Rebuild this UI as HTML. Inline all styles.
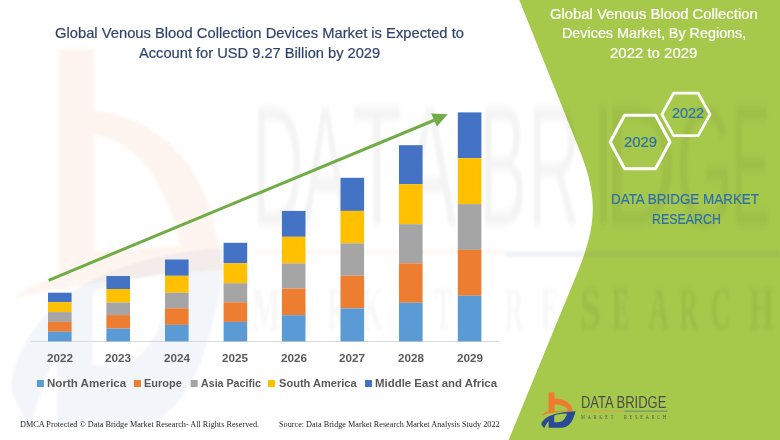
<!DOCTYPE html>
<html><head><meta charset="utf-8"><style>
html,body{margin:0;padding:0;}
body{width:780px;height:440px;position:relative;overflow:hidden;background:#fff;}
.t{position:absolute;white-space:nowrap;transform-origin:0 0;}
svg{position:absolute;left:0;top:0;}
</style></head><body>
<svg width="780" height="440" viewBox="0 0 780 440">
<defs><filter id="blur" x="-10%" y="-10%" width="120%" height="120%"><feGaussianBlur stdDeviation="1.2"/></filter><filter id="blur1" x="-10%" y="-10%" width="120%" height="120%"><feGaussianBlur stdDeviation="1.3"/></filter><clipPath id="cg"><path d="M519.3,0 L579.5,150 C597.9,196 596.9,224 578.5,270 L508.6,440 L780,440 L780,0 Z"/></clipPath><clipPath id="cw"><path d="M0,0 L519.3,0 L579.5,150 C597.9,196 596.9,224 578.5,270 L508.6,440 L0,440 Z"/></clipPath></defs>
<path d="M519.3,0 L579.5,150 C597.9,196 596.9,224 578.5,270 L508.6,440 L780,440 L780,0 Z" fill="#A6C84B"/>
<g filter="url(#blur)"><path d="M58.5,48.5 L94.5,48.5 L94.5,111 C141,113 196,150 212,215 C217,238 221,255 224,270 C160,274 80,284 12,298 C30,286 48,279 58.5,275 Z M94.5,135 C136,140 168,185 180,246 L94.5,251 Z" fill="#F07A30" fill-opacity="0.075" fill-rule="evenodd"/><g transform="matrix(6.3,0,0,10.6,-3398.7,-4110.9)"><path d="M575.5,411.2 C566,411.5 553,413 546,418 C542.5,420.5 540.8,423.5 541.5,425 L544.3,428.3 C545.3,425.5 546.8,423.3 548.6,421 L548.6,427.8 L562,427.8 C569.5,427.3 573.5,420 575.5,411.2 Z M554.2,415.4 C558.3,414.3 563,413.7 567,413.6 C566,418.3 562.8,422.3 557.7,422.3 L554.2,422.3 Z" fill="#2A4A96" fill-opacity="0.05" fill-rule="evenodd"/></g></g><g transform="scale(1,2.8343)" font-family="Liberation Sans" font-size="60" fill="#000" fill-opacity="0.045" filter="url(#blur1)"><text x="252.18" y="79.38" textLength="51.21" lengthAdjust="spacingAndGlyphs">D</text><text x="302.87" y="79.38" textLength="45.27" lengthAdjust="spacingAndGlyphs">A</text><text x="352.17" y="79.38" textLength="49.69" lengthAdjust="spacingAndGlyphs">T</text><text x="402.84" y="79.38" textLength="54.32" lengthAdjust="spacingAndGlyphs">A</text><text x="479.14" y="79.38" textLength="47.62" lengthAdjust="spacingAndGlyphs">B</text><text x="528.06" y="79.38" textLength="52.30" lengthAdjust="spacingAndGlyphs">R</text><text x="593.07" y="79.38" textLength="20.85" lengthAdjust="spacingAndGlyphs">I</text><text x="603.69" y="79.38" textLength="73.16" lengthAdjust="spacingAndGlyphs">D</text><text x="676.30" y="79.38" textLength="57.19" lengthAdjust="spacingAndGlyphs">G</text><text x="731.16" y="79.38" textLength="39.38" lengthAdjust="spacingAndGlyphs">E</text></g><g clip-path="url(#cw)"><g transform="scale(1,1.5267)" font-family="Liberation Serif" font-weight="700" font-size="40" fill="#000" fill-opacity="0.03" filter="url(#blur1)"><text x="251.56" y="215.50" textLength="28.89" lengthAdjust="spacingAndGlyphs">M</text><text x="291.32" y="215.50" textLength="20.48" lengthAdjust="spacingAndGlyphs">A</text><text x="327.19" y="215.50" textLength="18.86" lengthAdjust="spacingAndGlyphs">R</text><text x="361.56" y="215.50" textLength="21.14" lengthAdjust="spacingAndGlyphs">K</text><text x="399.49" y="215.50" textLength="17.22" lengthAdjust="spacingAndGlyphs">E</text><text x="434.17" y="215.50" textLength="18.02" lengthAdjust="spacingAndGlyphs">T</text><text x="504.19" y="215.50" textLength="18.86" lengthAdjust="spacingAndGlyphs">R</text><text x="541.19" y="215.50" textLength="17.22" lengthAdjust="spacingAndGlyphs">E</text><text x="579.99" y="215.50" textLength="20.83" lengthAdjust="spacingAndGlyphs">S</text><text x="612.19" y="215.50" textLength="17.22" lengthAdjust="spacingAndGlyphs">E</text><text x="648.72" y="215.50" textLength="20.48" lengthAdjust="spacingAndGlyphs">A</text><text x="679.19" y="215.50" textLength="18.86" lengthAdjust="spacingAndGlyphs">R</text><text x="710.78" y="215.50" textLength="19.86" lengthAdjust="spacingAndGlyphs">C</text><text x="749.00" y="215.50" textLength="25.01" lengthAdjust="spacingAndGlyphs">H</text></g></g><g clip-path="url(#cg)"><g transform="scale(1,1.5267)" font-family="Liberation Serif" font-weight="700" font-size="40" fill="#000" fill-opacity="0.055" filter="url(#blur1)"><text x="251.56" y="215.50" textLength="28.89" lengthAdjust="spacingAndGlyphs">M</text><text x="291.32" y="215.50" textLength="20.48" lengthAdjust="spacingAndGlyphs">A</text><text x="327.19" y="215.50" textLength="18.86" lengthAdjust="spacingAndGlyphs">R</text><text x="361.56" y="215.50" textLength="21.14" lengthAdjust="spacingAndGlyphs">K</text><text x="399.49" y="215.50" textLength="17.22" lengthAdjust="spacingAndGlyphs">E</text><text x="434.17" y="215.50" textLength="18.02" lengthAdjust="spacingAndGlyphs">T</text><text x="504.19" y="215.50" textLength="18.86" lengthAdjust="spacingAndGlyphs">R</text><text x="541.19" y="215.50" textLength="17.22" lengthAdjust="spacingAndGlyphs">E</text><text x="579.99" y="215.50" textLength="20.83" lengthAdjust="spacingAndGlyphs">S</text><text x="612.19" y="215.50" textLength="17.22" lengthAdjust="spacingAndGlyphs">E</text><text x="648.72" y="215.50" textLength="20.48" lengthAdjust="spacingAndGlyphs">A</text><text x="679.19" y="215.50" textLength="18.86" lengthAdjust="spacingAndGlyphs">R</text><text x="710.78" y="215.50" textLength="19.86" lengthAdjust="spacingAndGlyphs">C</text><text x="749.00" y="215.50" textLength="25.01" lengthAdjust="spacingAndGlyphs">H</text></g></g><g filter="url(#blur1)"><rect x="255" y="250" width="250" height="4" fill="#F07A30" fill-opacity="0.06"/><rect x="505" y="251" width="275" height="6" fill="#2A4A96" fill-opacity="0.06"/></g>
<line x1="31" y1="341.5" x2="499" y2="341.5" stroke="#D9D9D9" stroke-width="1"/>
<rect x="48" y="292.7" width="23.6" height="9.50" fill="#4472C4"/><rect x="48" y="302.2" width="23.6" height="9.90" fill="#FFC000"/><rect x="48" y="312.1" width="23.6" height="9.80" fill="#A5A5A5"/><rect x="48" y="321.9" width="23.6" height="9.80" fill="#ED7D31"/><rect x="48" y="331.7" width="23.6" height="9.70" fill="#5B9BD5"/><rect x="106.4" y="276" width="23.6" height="13.00" fill="#4472C4"/><rect x="106.4" y="289" width="23.6" height="13.50" fill="#FFC000"/><rect x="106.4" y="302.5" width="23.6" height="12.60" fill="#A5A5A5"/><rect x="106.4" y="315.1" width="23.6" height="13.50" fill="#ED7D31"/><rect x="106.4" y="328.6" width="23.6" height="12.80" fill="#5B9BD5"/><rect x="165" y="259.5" width="23.6" height="16.30" fill="#4472C4"/><rect x="165" y="275.8" width="23.6" height="16.90" fill="#FFC000"/><rect x="165" y="292.7" width="23.6" height="15.60" fill="#A5A5A5"/><rect x="165" y="308.3" width="23.6" height="16.60" fill="#ED7D31"/><rect x="165" y="324.9" width="23.6" height="16.50" fill="#5B9BD5"/><rect x="223.6" y="242.8" width="23.6" height="20.50" fill="#4472C4"/><rect x="223.6" y="263.3" width="23.6" height="19.90" fill="#FFC000"/><rect x="223.6" y="283.2" width="23.6" height="19.10" fill="#A5A5A5"/><rect x="223.6" y="302.3" width="23.6" height="19.60" fill="#ED7D31"/><rect x="223.6" y="321.9" width="23.6" height="19.50" fill="#5B9BD5"/><rect x="281.9" y="210.9" width="23.6" height="25.90" fill="#4472C4"/><rect x="281.9" y="236.8" width="23.6" height="26.60" fill="#FFC000"/><rect x="281.9" y="263.4" width="23.6" height="25.20" fill="#A5A5A5"/><rect x="281.9" y="288.6" width="23.6" height="26.60" fill="#ED7D31"/><rect x="281.9" y="315.2" width="23.6" height="26.20" fill="#5B9BD5"/><rect x="340.5" y="177.8" width="23.6" height="33.10" fill="#4472C4"/><rect x="340.5" y="210.9" width="23.6" height="32.40" fill="#FFC000"/><rect x="340.5" y="243.3" width="23.6" height="32.40" fill="#A5A5A5"/><rect x="340.5" y="275.7" width="23.6" height="32.70" fill="#ED7D31"/><rect x="340.5" y="308.4" width="23.6" height="33.00" fill="#5B9BD5"/><rect x="399" y="145.2" width="23.6" height="39.10" fill="#4472C4"/><rect x="399" y="184.3" width="23.6" height="39.90" fill="#FFC000"/><rect x="399" y="224.2" width="23.6" height="39.10" fill="#A5A5A5"/><rect x="399" y="263.3" width="23.6" height="39.40" fill="#ED7D31"/><rect x="399" y="302.7" width="23.6" height="38.70" fill="#5B9BD5"/><rect x="457.8" y="112.4" width="23.6" height="45.80" fill="#4472C4"/><rect x="457.8" y="158.2" width="23.6" height="45.90" fill="#FFC000"/><rect x="457.8" y="204.1" width="23.6" height="45.80" fill="#A5A5A5"/><rect x="457.8" y="249.9" width="23.6" height="45.80" fill="#ED7D31"/><rect x="457.8" y="295.7" width="23.6" height="45.70" fill="#5B9BD5"/><rect x="36.9" y="380" width="7" height="7" fill="#5B9BD5"/><rect x="133.9" y="380" width="7" height="7" fill="#ED7D31"/><rect x="190.6" y="380" width="7" height="7" fill="#A5A5A5"/><rect x="268" y="380" width="7" height="7" fill="#FFC000"/><rect x="365" y="380" width="7" height="7" fill="#4472C4"/>
<line x1="48.6" y1="280.3" x2="436" y2="119.5" stroke="#70AD47" stroke-width="3"/>
<polygon points="447.7,114.2 431.2,113.4 436.9,126.4" fill="#70AD47"/>
<g fill="none" stroke="#fff" stroke-linejoin="round">
<polygon stroke-width="2.8" points="661.9,114.4 673.6,93.2 698.2,93.2 710,114.4 698.2,135.6 673.6,135.6"/>
<polygon stroke-width="3.1" points="610.2,142 624.6,115.25 655.5,115.25 670,142 655.5,168.75 624.6,168.75"/>
</g>
<path d="M548.6,392.3 L554.5,392.3 L554.5,398.5 C563,398.3 571.5,402 572.8,411 C565,411.3 552,412 546,414 C544,414.7 542.5,415.3 541.4,416 C543,413.5 546,412.2 548.6,411.6 Z M554.5,404.5 L554.5,411.2 C559,410.9 564,410.6 568.2,410.6 C566.5,406.3 560.5,404.4 554.5,404.5 Z" fill="#F07A30" fill-rule="evenodd"/><path d="M575.5,411.2 C566,411.5 553,413 546,418 C542.5,420.5 540.8,423.5 541.5,425 L544.3,428.3 C545.3,425.5 546.8,423.3 548.6,421 L548.6,427.8 L562,427.8 C569.5,427.3 573.5,420 575.5,411.2 Z M554.2,415.4 C558.3,414.3 563,413.7 567,413.6 C566,418.3 562.8,422.3 557.7,422.3 L554.2,422.3 Z" fill="#2A4A96" fill-rule="evenodd"/>
<line x1="582" y1="411.2" x2="624.4" y2="411.2" stroke="#D9A04A" stroke-width="0.8"/>
<line x1="624.4" y1="411.2" x2="667.3" y2="411.2" stroke="#5A7A8A" stroke-width="0.8"/>
</svg>
<div class="t" style="left:55.04px;top:25.45px;font-family:'Liberation Sans';font-weight:400;font-size:15.41px;line-height:15.41px;color:#2F436F;transform:scaleX(0.9570);-webkit-text-stroke:0.2px">Global Venous Blood Collection Devices Market is Expected to</div><div class="t" style="left:139.30px;top:44.85px;font-family:'Liberation Sans';font-weight:400;font-size:15.41px;line-height:15.41px;color:#2F436F;transform:scaleX(0.9514);-webkit-text-stroke:0.2px">Account for USD 9.27 Billion by 2029</div><div class="t" style="left:549.76px;top:6.94px;font-family:'Liberation Sans';font-weight:400;font-size:14.24px;line-height:14.24px;color:#FFFFFF;transform:scaleX(1.0414);-webkit-text-stroke:0.2px">Global Venous Blood Collection</div><div class="t" style="left:561.99px;top:26.44px;font-family:'Liberation Sans';font-weight:400;font-size:14.24px;line-height:14.24px;color:#FFFFFF;transform:scaleX(1.0083);-webkit-text-stroke:0.2px">Devices Market, By Regions,</div><div class="t" style="left:609.75px;top:46.44px;font-family:'Liberation Sans';font-weight:400;font-size:14.24px;line-height:14.24px;color:#FFFFFF;transform:scaleX(1.0512);-webkit-text-stroke:0.2px">2022 to 2029</div><div class="t" style="left:671.60px;top:107.31px;font-family:'Liberation Sans';font-weight:400;font-size:13.81px;line-height:13.81px;color:#2E6FAD;transform:scaleX(1.0467);-webkit-text-stroke:0.2px">2022</div><div class="t" style="left:624.46px;top:134.94px;font-family:'Liberation Sans';font-weight:400;font-size:14.24px;line-height:14.24px;color:#2E6FAD;transform:scaleX(1.0433);-webkit-text-stroke:0.2px">2029</div><div class="t" style="left:610.81px;top:191.10px;font-family:'Liberation Sans';font-weight:400;font-size:15.12px;line-height:15.12px;color:#2E6FAD;transform:scaleX(0.8891);-webkit-text-stroke:0.2px">DATA BRIDGE MARKET</div><div class="t" style="left:652.18px;top:210.80px;font-family:'Liberation Sans';font-weight:400;font-size:15.12px;line-height:15.12px;color:#2E6FAD;transform:scaleX(0.8207);-webkit-text-stroke:0.2px">RESEARCH</div><div class="t" style="left:46.62px;top:377.79px;font-family:'Liberation Sans';font-weight:700;font-size:10.76px;line-height:10.76px;color:#595959;transform:scaleX(1.0753);">North America</div><div class="t" style="left:143.78px;top:377.79px;font-family:'Liberation Sans';font-weight:700;font-size:10.76px;line-height:10.76px;color:#595959;transform:scaleX(1.0250);">Europe</div><div class="t" style="left:200.80px;top:377.79px;font-family:'Liberation Sans';font-weight:700;font-size:10.76px;line-height:10.76px;color:#595959;transform:scaleX(0.9917);">Asia Pacific</div><div class="t" style="left:278.80px;top:377.79px;font-family:'Liberation Sans';font-weight:700;font-size:10.76px;line-height:10.76px;color:#595959;transform:scaleX(1.0289);">South America</div><div class="t" style="left:374.74px;top:377.79px;font-family:'Liberation Sans';font-weight:700;font-size:10.76px;line-height:10.76px;color:#595959;transform:scaleX(1.0623);">Middle East and Africa</div><div class="t" style="left:19.87px;top:419.59px;font-family:'Liberation Serif';font-weight:400;font-size:8.85px;line-height:8.85px;color:#262626;transform:scaleX(0.9314);">DMCA Protected © Data Bridge Market Research- All Rights Reserved.</div><div class="t" style="left:279.27px;top:419.59px;font-family:'Liberation Serif';font-weight:400;font-size:8.85px;line-height:8.85px;color:#262626;transform:scaleX(0.9280);">Source: Data Bridge Market Research Market Analysis Study 2022</div><div class="t" style="left:580.72px;top:395.14px;font-family:'Liberation Sans';font-weight:400;font-size:16.72px;line-height:16.72px;color:#4D4D4D;transform:scaleX(0.7769);">DATA BRIDGE</div><div class="t" style="left:580.79px;top:413.88px;font-family:'Liberation Serif';font-weight:400;font-size:6.11px;line-height:6.11px;color:#555555;transform:scaleX(0.7050);letter-spacing:4px">MARKET&nbsp;&nbsp;RESEARCH</div><div class="t" style="left:46.85px;top:353.00px;font-family:'Liberation Sans';font-weight:700;font-size:11.34px;line-height:11.34px;color:#595959;transform:scaleX(1.0320);">2022</div><div class="t" style="left:105.25px;top:353.00px;font-family:'Liberation Sans';font-weight:700;font-size:11.34px;line-height:11.34px;color:#595959;transform:scaleX(1.0320);">2023</div><div class="t" style="left:163.85px;top:353.00px;font-family:'Liberation Sans';font-weight:700;font-size:11.34px;line-height:11.34px;color:#595959;transform:scaleX(1.0320);">2024</div><div class="t" style="left:222.45px;top:353.00px;font-family:'Liberation Sans';font-weight:700;font-size:11.34px;line-height:11.34px;color:#595959;transform:scaleX(1.0320);">2025</div><div class="t" style="left:280.75px;top:353.00px;font-family:'Liberation Sans';font-weight:700;font-size:11.34px;line-height:11.34px;color:#595959;transform:scaleX(1.0320);">2026</div><div class="t" style="left:339.35px;top:353.00px;font-family:'Liberation Sans';font-weight:700;font-size:11.34px;line-height:11.34px;color:#595959;transform:scaleX(1.0320);">2027</div><div class="t" style="left:397.85px;top:353.00px;font-family:'Liberation Sans';font-weight:700;font-size:11.34px;line-height:11.34px;color:#595959;transform:scaleX(1.0320);">2028</div><div class="t" style="left:456.65px;top:353.00px;font-family:'Liberation Sans';font-weight:700;font-size:11.34px;line-height:11.34px;color:#595959;transform:scaleX(1.0320);">2029</div>
</body></html>
